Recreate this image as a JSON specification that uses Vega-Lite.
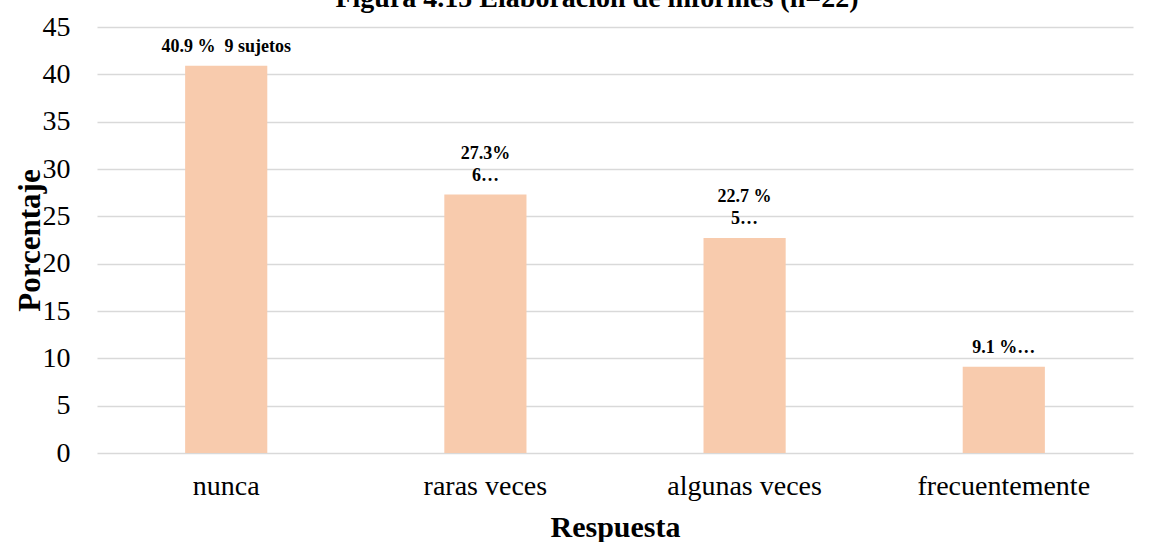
{
  "$schema": "https://vega.github.io/schema/vega-lite/v6.json",
  "autosize": "none",
  "width": 1036,
  "height": 426,
  "padding": {"left": 97, "top": 27, "right": 37, "bottom": 89},
  "background": "white",
  "title": {
    "text": "Figura 4.15 Elaboración de informes (n=22)",
    "font": "Liberation Serif",
    "fontSize": 28,
    "fontWeight": "bold",
    "color": "black",
    "anchor": "middle",
    "baseline": "alphabetic",
    "dx": -18,
    "offset": -22
  },
  "config": {"view": {"stroke": null}},
  "data": {
    "values": [
      {"respuesta": "nunca", "porcentaje": 40.9, "linea1": "", "linea2": "40.9 % \u00a09 sujetos"},
      {"respuesta": "raras  veces", "porcentaje": 27.3, "linea1": "27.3%", "linea2": "6…"},
      {"respuesta": "algunas veces", "porcentaje": 22.7, "linea1": "22.7 %", "linea2": "5…"},
      {"respuesta": "frecuentemente", "porcentaje": 9.1, "linea1": "", "linea2": "9.1 %…"}
    ]
  },
  "encoding": {
    "x": {
      "field": "respuesta",
      "type": "nominal",
      "sort": null,
      "scale": {"paddingInner": 0.683, "paddingOuter": 0.34},
      "axis": {
        "title": "Respuesta",
        "titleFont": "Liberation Serif",
        "titleFontSize": 30,
        "titleFontWeight": "bold",
        "titleColor": "black",
        "titlePadding": 12,
        "labelFont": "Liberation Serif",
        "labelFontSize": 28,
        "labelColor": "black",
        "labelAngle": 0,
        "labelPadding": 19,
        "ticks": false,
        "tickSize": 0,
        "domain": false
      }
    },
    "y": {
      "field": "porcentaje",
      "type": "quantitative",
      "scale": {"domain": [0, 45]},
      "axis": {
        "title": "Porcentaje",
        "titleFont": "Liberation Serif",
        "titleFontSize": 31,
        "titleFontWeight": "bold",
        "titleColor": "black",
        "titlePadding": -4,
        "labelFont": "Liberation Serif",
        "labelFontSize": 28,
        "labelColor": "black",
        "labelPadding": 27,
        "values": [0, 5, 10, 15, 20, 25, 30, 35, 40, 45],
        "ticks": false,
        "tickSize": 0,
        "domain": false,
        "grid": true,
        "gridColor": "#d9d9d9",
        "gridWidth": 1.3
      }
    }
  },
  "layer": [
    {"mark": {"type": "bar", "color": "#f8cbad"}},
    {
      "mark": {
        "type": "text",
        "font": "Liberation Serif",
        "fontSize": 18,
        "fontWeight": "bold",
        "color": "black",
        "baseline": "alphabetic",
        "dy": -36
      },
      "encoding": {"text": {"field": "linea1"}}
    },
    {
      "mark": {
        "type": "text",
        "font": "Liberation Serif",
        "fontSize": 18,
        "fontWeight": "bold",
        "color": "black",
        "baseline": "alphabetic",
        "dy": -14
      },
      "encoding": {"text": {"field": "linea2"}}
    }
  ]
}
